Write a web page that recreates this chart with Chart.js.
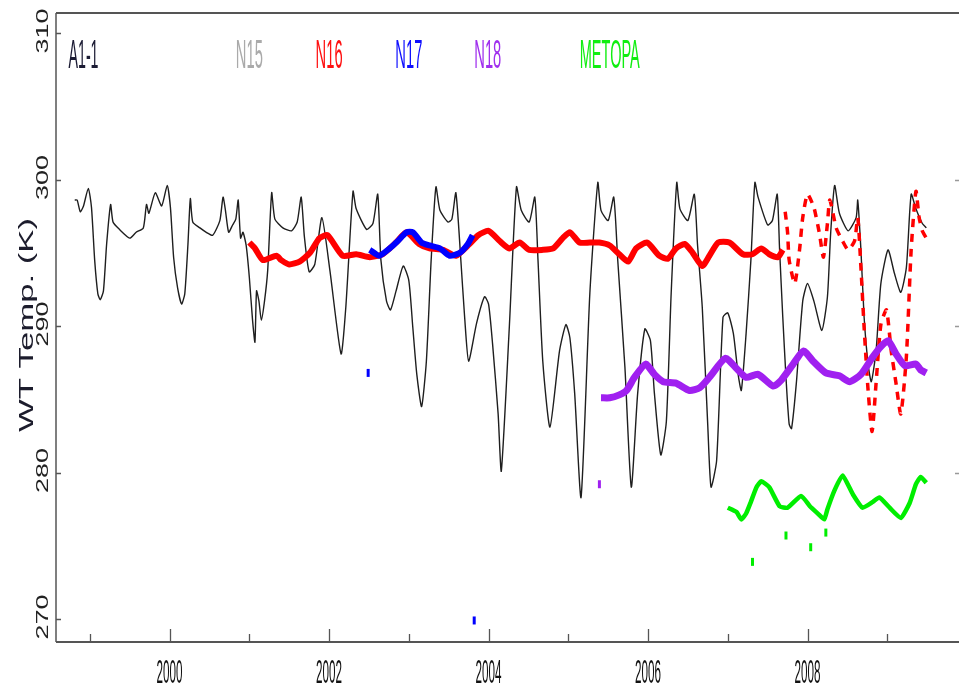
<!DOCTYPE html>
<html>
<head>
<meta charset="utf-8">
<style>
  html, body { margin: 0; padding: 0; background: #fff; }
  #wrap { width: 959px; height: 687px; }
</style>
</head>
<body>
<div id="wrap">
  <canvas id="wt-chart" width="959" height="687"></canvas>
</div>

<script src="https://cdn.jsdelivr.net/npm/chart.js"></script>

<script>
  // values (year, Kelvin)
  const n15Year = [
    1998.81, 1998.84, 1998.88, 1998.92, 1998.98, 1999.02, 1999.06, 1999.10, 1999.13, 1999.17, 1999.21,
    1999.26, 1999.29, 1999.37, 1999.50, 1999.58, 1999.67, 1999.71, 1999.74, 1999.82, 1999.90, 1999.97,
    2000.01, 2000.05, 2000.10, 2000.15, 2000.19, 2000.23, 2000.26, 2000.29, 2000.38, 2000.46, 2000.54,
    2000.63, 2000.67, 2000.70, 2000.74, 2000.79, 2000.83, 2000.86, 2000.89, 2000.92, 2000.96,
    2001.00, 2001.04, 2001.07, 2001.09, 2001.12, 2001.15, 2001.19, 2001.23, 2001.28, 2001.32, 2001.42,
    2001.53, 2001.60, 2001.65, 2001.69, 2001.75, 2001.82, 2001.91,
    2002.01, 2002.15, 2002.21, 2002.30, 2002.34, 2002.47, 2002.55, 2002.61, 2002.65, 2002.72, 2002.77,
    2002.84, 2002.93,
    2003.00, 2003.05, 2003.10, 2003.16, 2003.22, 2003.28, 2003.34, 2003.39, 2003.49, 2003.54, 2003.59,
    2003.65, 2003.70, 2003.75, 2003.85, 2003.95,
    2004.00, 2004.05, 2004.12, 2004.16, 2004.26, 2004.35, 2004.41, 2004.51, 2004.58, 2004.62, 2004.68,
    2004.77, 2004.89, 2004.97,
    2005.02, 2005.08, 2005.16, 2005.27, 2005.37, 2005.41, 2005.50, 2005.57, 2005.62, 2005.71, 2005.79,
    2005.87, 2005.96,
    2006.03, 2006.08, 2006.16, 2006.23, 2006.29, 2006.36, 2006.40, 2006.50, 2006.58, 2006.62, 2006.68,
    2006.75, 2006.79, 2006.86, 2006.94,
    2007.00, 2007.07, 2007.13, 2007.17, 2007.23, 2007.29, 2007.34, 2007.38, 2007.50, 2007.56, 2007.62,
    2007.65, 2007.69, 2007.73, 2007.77, 2007.80, 2007.86, 2007.94,
    2008.00, 2008.08, 2008.18, 2008.25, 2008.29, 2008.34, 2008.40, 2008.51, 2008.61, 2008.63, 2008.67,
    2008.71, 2008.76, 2008.80, 2008.86, 2008.92,
    2009.01, 2009.09, 2009.17, 2009.24, 2009.30, 2009.36, 2009.44, 2009.49
  ]
  const n15Temp = [
    298.6, 298.6, 297.8, 298.2, 299.4, 298.1, 294.5, 292.2, 291.8, 292.4, 295.6,
    298.3, 297.1, 296.6, 296.0, 296.4, 296.7, 298.3, 297.7, 299.1, 298.2, 299.6,
    298.1, 294.7, 292.6, 291.5, 292.2, 295.6, 298.7, 297.1, 296.7, 296.4, 296.2,
    297.2, 298.8, 297.9, 296.4, 296.9, 297.3, 298.6, 296.0, 296.4, 295.5,
    293.3, 290.4, 288.9, 292.4, 291.7, 290.4, 291.7, 293.8, 299.1, 297.3, 296.7,
    296.5, 297.1, 298.8, 296.1, 293.7, 294.2, 297.4,
    293.8, 288.1, 291.3, 299.2, 298.0, 296.6, 297.0, 299.0, 294.5, 291.7, 291.1,
    292.4, 294.1,
    293.1, 289.9, 286.7, 284.5, 287.6, 294.5, 299.5, 297.9, 297.1, 297.3, 299.1,
    294.7, 290.6, 287.6, 290.2, 292.0,
    291.5, 288.8, 284.0, 280.1, 289.9, 299.5, 297.9, 297.1, 298.8, 294.5, 287.6,
    283.1, 288.3, 290.1,
    289.2, 285.4, 278.3, 292.2, 299.8, 297.9, 297.2, 298.8, 294.5, 287.2, 279.0,
    285.4, 289.8,
    289.0, 285.4, 281.2, 283.5, 292.2, 299.8, 298.0, 297.2, 299.0, 295.6, 291.3,
    283.1, 279.0, 280.8, 290.6,
    290.9, 289.5, 286.7, 285.6, 289.5, 294.5, 299.8, 298.8, 296.9, 297.2, 299.0,
    295.2, 290.6, 286.5, 283.3, 283.0, 286.1, 291.7,
    292.9, 291.7, 289.7, 292.0, 296.3, 299.6, 297.7, 296.5, 297.4, 298.6, 295.2,
    290.6, 287.4, 286.2, 288.3, 292.9,
    295.2, 293.6, 292.3, 294.0, 299.0, 298.0, 297.0, 296.7
  ]

  const n16Year = [
    2001.00, 2001.07, 2001.17, 2001.34, 2001.40, 2001.50, 2001.63, 2001.76, 2001.88, 2001.98,
    2002.17, 2002.34, 2002.51, 2002.67, 2002.84, 2002.97, 2003.13, 2003.26, 2003.43, 2003.59,
    2003.76, 2003.87, 2004.00, 2004.14, 2004.26, 2004.39, 2004.51, 2004.68, 2004.81, 2004.93,
    2005.02, 2005.14, 2005.27, 2005.39, 2005.52, 2005.64, 2005.75, 2005.85, 2005.99, 2006.14,
    2006.25, 2006.35, 2006.46, 2006.56, 2006.68, 2006.77, 2006.88, 2007.02, 2007.19, 2007.31,
    2007.42, 2007.52, 2007.63, 2007.69
  ]
  const n16Temp = [
    295.7, 295.3, 294.5, 294.8, 294.5, 294.2, 294.4, 295.0, 296.0, 296.2,
    294.8, 294.9, 294.7, 294.9, 295.7, 296.4, 295.6, 295.3, 295.2, 294.8,
    295.6, 296.2, 296.5, 295.8, 295.3, 295.7, 295.2, 295.2, 295.3, 296.0,
    296.4, 295.7, 295.7, 295.7, 295.5, 294.9, 294.4, 295.3, 295.7, 294.8,
    294.6, 295.3, 295.6, 295.0, 294.1, 294.8, 295.7, 295.7, 294.9, 294.9,
    295.3, 294.9, 294.7, 295.2
  ]
  // broken (dashed) end of the N16 record
  const n16LateYear = [
    2007.72, 2007.75, 2007.77, 2007.84, 2007.90, 2007.94, 2008.00, 2008.08, 2008.15, 2008.20,
    2008.25, 2008.28, 2008.36, 2008.44, 2008.51, 2008.59, 2008.63, 2008.67, 2008.71, 2008.76,
    2008.81, 2008.86, 2008.92, 2008.99, 2009.05, 2009.11, 2009.17, 2009.24, 2009.30, 2009.36,
    2009.40, 2009.44, 2009.49
  ]
  const n16LateTemp = [
    297.8, 296.4, 294.5, 292.9, 295.2, 297.4, 299.0, 298.1, 296.3, 294.7,
    297.0, 298.6, 296.7, 295.8, 295.2, 295.8, 297.4, 294.0, 289.9, 285.6,
    282.8, 286.1, 290.1, 291.1, 288.3, 286.1, 284.0, 287.9, 295.2, 299.2,
    297.4, 296.5, 296.0
  ]

  const n17Year = [2002.51, 2002.63, 2002.76, 2002.86, 2002.97, 2003.05, 2003.16, 2003.26, 2003.39, 2003.51, 2003.64, 2003.74, 2003.80]
  const n17Temp = [295.2, 294.8, 295.3, 295.8, 296.4, 296.4, 295.7, 295.5, 295.3, 294.8, 295.0, 295.6, 296.2]
  const n17OddYear = [2002.49, 2003.82]
  const n17OddTemp = [286.8, 269.9]

  const n18Year = [
    2005.41, 2005.52, 2005.64, 2005.73, 2005.83, 2005.97, 2006.08, 2006.19, 2006.35, 2006.52,
    2006.65, 2006.77, 2006.97, 2007.11, 2007.23, 2007.38, 2007.57, 2007.67, 2007.82, 2007.95,
    2008.07, 2008.23, 2008.40, 2008.53, 2008.67, 2008.82, 2008.92, 2009.01, 2009.11, 2009.22,
    2009.36, 2009.42, 2009.49
  ]
  const n18Temp = [
    285.1, 285.1, 285.3, 285.6, 286.5, 287.4, 286.7, 286.2, 286.1, 285.6,
    285.8, 286.5, 287.8, 287.1, 286.5, 286.7, 285.9, 286.3, 287.4, 288.3,
    287.6, 286.8, 286.6, 286.2, 286.7, 287.9, 288.6, 289.0, 288.1, 287.3,
    287.4, 287.0, 286.8
  ]
  const n18OddYear = [2005.39]
  const n18OddTemp = [279.2]

  const metopYear = [
    2007.00, 2007.11, 2007.17, 2007.23, 2007.29, 2007.36, 2007.42, 2007.52, 2007.65, 2007.75,
    2007.92, 2008.03, 2008.13, 2008.21, 2008.25, 2008.34, 2008.44, 2008.57, 2008.69, 2008.82,
    2008.90, 2009.03, 2009.17, 2009.28, 2009.36, 2009.42, 2009.49
  ]
  const metopTemp = [
    277.6, 277.3, 276.8, 277.2, 278.0, 279.0, 279.4, 279.0, 277.7, 277.6,
    278.4, 277.7, 277.2, 276.8, 277.5, 278.8, 279.8, 278.5, 277.6, 278.0,
    278.3, 277.6, 276.9, 277.9, 279.2, 279.7, 279.3
  ]
  const metopOddYear = [2007.31, 2007.73, 2008.04, 2008.23]
  const metopOddTemp = [273.9, 275.7, 274.9, 275.9]

  const yTicks = [270, 280, 290, 300, 310]
  const xLabelYears = [2000, 2002, 2004, 2006, 2008]
  const xTickYears = [1999, 2000, 2001, 2002, 2003, 2004, 2005, 2006, 2007, 2008, 2009]
  const rightTicks = [280, 290, 300]

  const labels = [
    {text: 'A1-1', color: '#1c1c34', year: 1998.92, len: 30},
    {text: 'N15', color: '#aaaaaa', year: 2001.00, len: 27},
    {text: 'N16', color: '#ff1010', year: 2002.00, len: 27},
    {text: 'N17', color: '#1010ff', year: 2003.00, len: 27},
    {text: 'N18', color: '#a030ee', year: 2003.99, len: 27},
    {text: 'METOPA', color: '#10ee10', year: 2005.52, len: 60},
  ]

  const pts = (xs, ys) => xs.map((x, i) => ({x: x, y: ys[i]}))

  const FONT = '"Liberation Sans", Arial, sans-serif'

  // draw text squeezed/stretched to a given length (the original uses a condensed face)
  function fitText(ctx, text, x, y, len, size, rot, color) {
    ctx.save()
    ctx.font = size + 'px ' + FONT
    const w = ctx.measureText(text).width
    ctx.translate(x, y)
    ctx.rotate(rot)
    ctx.scale(len / w, 1)
    ctx.fillStyle = color
    ctx.textAlign = 'center'
    ctx.textBaseline = 'alphabetic'
    ctx.fillText(text, 0, 0)
    ctx.restore()
  }

  const framePlugin = {
    id: 'frame',
    afterDraw(chart) {
      const ctx = chart.ctx
      const a = chart.chartArea
      const xs = chart.scales.x
      const ys = chart.scales.y
      ctx.save()
      ctx.strokeStyle = '#555'
      ctx.lineWidth = 2
      ctx.beginPath()
      ctx.moveTo(a.left, a.top); ctx.lineTo(a.right, a.top)
      ctx.moveTo(a.left, a.bottom); ctx.lineTo(a.right, a.bottom)
      ctx.stroke()
      ctx.lineWidth = 1.5
      ctx.beginPath()
      ctx.moveTo(a.left, a.top); ctx.lineTo(a.left, a.bottom)
      ctx.stroke()

      ctx.lineWidth = 1.3
      ctx.beginPath()
      xTickYears.forEach(yr => {
        const px = Math.round(xs.getPixelForValue(yr)) + 0.5
        const len = yr % 2 === 0 ? 13 : 8
        ctx.moveTo(px, a.bottom); ctx.lineTo(px, a.bottom - len)
      })
      yTicks.forEach(v => {
        const py = Math.round(ys.getPixelForValue(v)) + 0.5
        ctx.moveTo(a.left, py); ctx.lineTo(a.left + 5, py)
      })
      ctx.stroke()
      ctx.strokeStyle = '#999'
      ctx.beginPath()
      rightTicks.forEach(v => {
        const py = Math.round(ys.getPixelForValue(v)) + 0.5
        ctx.moveTo(a.right - 4, py); ctx.lineTo(a.right, py)
      })
      ctx.stroke()
      ctx.restore()

      xLabelYears.forEach(yr => {
        fitText(ctx, String(yr), xs.getPixelForValue(yr), 683, 26, 34, 0, '#111')
      })
      yTicks.forEach(v => {
        fitText(ctx, String(v), 48, ys.getPixelForValue(v) - 2, 45, 17, -Math.PI / 2, '#222')
      })
      fitText(ctx, 'WT Temp. (K)', 33, 325, 214, 20, -Math.PI / 2, '#1c1c2c')

      labels.forEach(l => {
        fitText(ctx, l.text, xs.getPixelForValue(l.year), 68, l.len, 40, 0, l.color)
      })
    }
  }

  const lineSet = (data, color, width, order, extra) => Object.assign({
    data: data,
    borderColor: color,
    backgroundColor: color,
    borderWidth: width,
    pointRadius: 0,
    showLine: true,
    fill: false,
    tension: 0.2,
    order: order,
  }, extra || {})

  const oddSet = (data, color) => ({
    data: data,
    showLine: false,
    pointStyle: 'line',
    rotation: 90,
    pointRadius: 4,
    borderWidth: 3,
    borderColor: color,
    backgroundColor: color,
    order: 1,
  })

  const ctx = document.getElementById('wt-chart').getContext('2d')
  const chart = new Chart(ctx, {
    type: 'scatter',
    data: {
      datasets: [
        lineSet(pts(n15Year, n15Temp), '#1e1e1e', 1.4, 10),
        lineSet(pts(n16Year, n16Temp), '#ff0000', 6, 8),
        lineSet(pts(n16LateYear, n16LateTemp), '#ff0000', 3.5, 8, {borderDash: [8, 7]}),
        lineSet(pts(n17Year, n17Temp), '#0000ff', 6, 7),
        lineSet(pts(n18Year, n18Temp), '#a020f0', 7, 6),
        lineSet(pts(metopYear, metopTemp), '#00ee00', 4.5, 5, {tension: 0.15}),
        oddSet(pts(n17OddYear, n17OddTemp), '#0000ff'),
        oddSet(pts(n18OddYear, n18OddTemp), '#a020f0'),
        oddSet(pts(metopOddYear, metopOddTemp), '#00ee00'),
      ]
    },
    options: {
      responsive: false,
      animation: false,
      layout: {autoPadding: false, padding: {left: 56, top: 13, right: 0, bottom: 45}},
      plugins: {legend: {display: false}, tooltip: {enabled: false}},
      scales: {
        x: {type: 'linear', min: 1998.575, max: 2009.9, display: false},
        y: {type: 'linear', min: 268.43, max: 311.37, display: false},
      },
    },
    plugins: [framePlugin],
  })
</script>
</body>
</html>
